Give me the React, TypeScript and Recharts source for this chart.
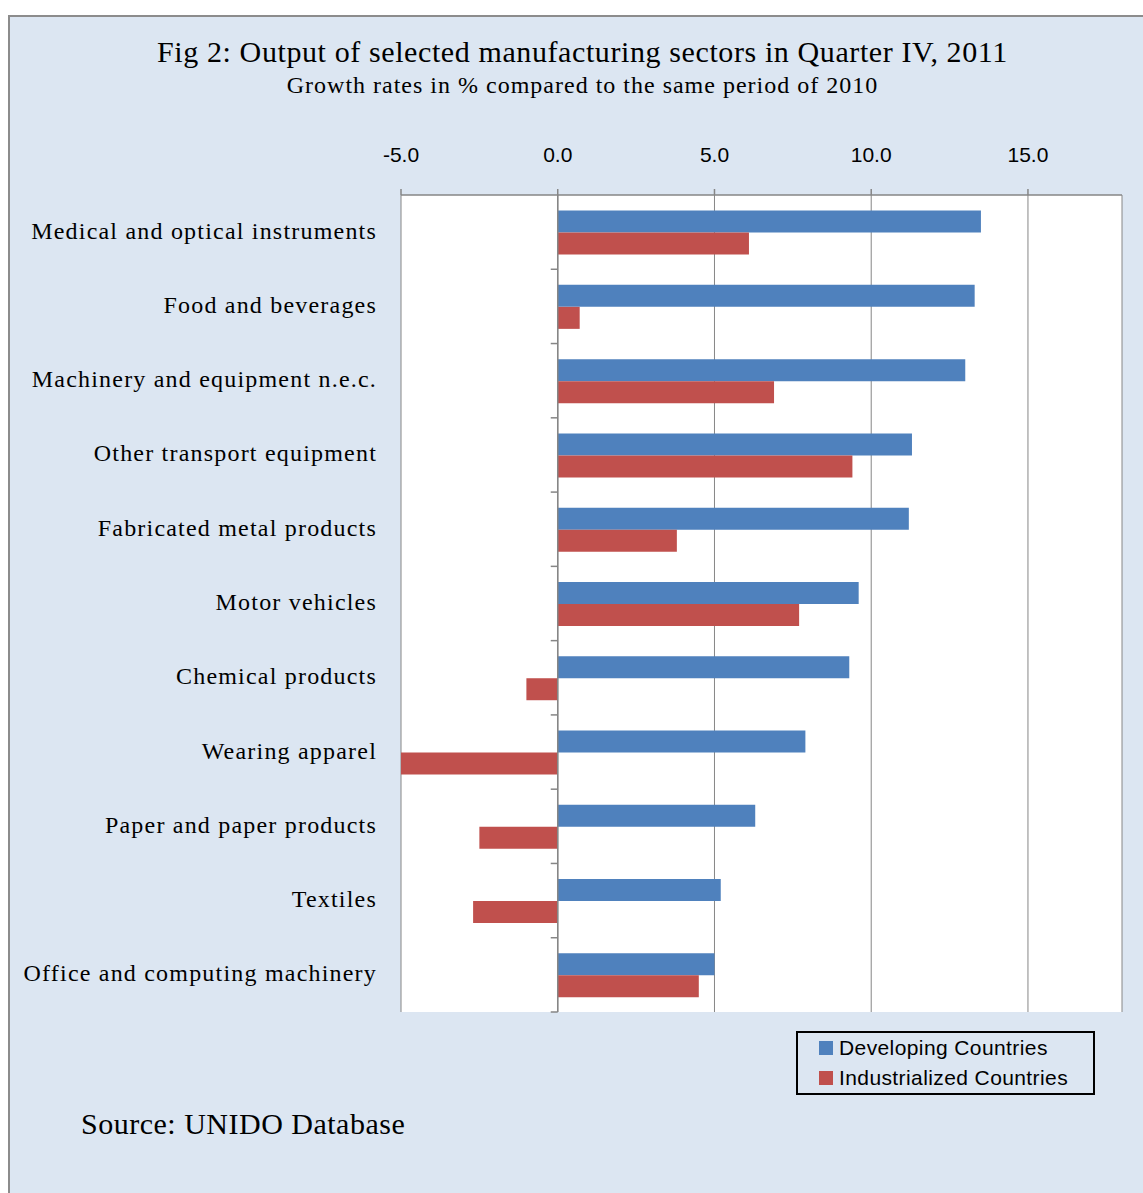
import React from "react";
import {
  BarChart,
  Bar,
  XAxis,
  YAxis,
  CartesianGrid,
  ReferenceLine,
  Legend,
} from "recharts";

const sectors = [
  "Medical and optical instruments",
  "Food and beverages",
  "Machinery and equipment n.e.c.",
  "Other transport equipment",
  "Fabricated metal products",
  "Motor vehicles",
  "Chemical products",
  "Wearing apparel",
  "Paper and paper products",
  "Textiles",
  "Office and computing machinery",
];
const developing = [13.5, 13.3, 13.0, 11.3, 11.2, 9.6, 9.3, 7.9, 6.3, 5.2, 5.0];
const industrialized = [6.1, 0.7, 6.9, 9.4, 3.8, 7.7, -1.0, -5.0, -2.5, -2.7, 4.5];
const xTicks = [-5, 0, 5, 10, 15];

const data = sectors.map((name, i) => ({
  name,
  developing: developing[i],
  industrialized: industrialized[i],
}));

const BLUE = "#4f81bd";
const RED = "#c0504d";
const GRAY = "#868686";
const SERIF = "'Liberation Serif', 'Times New Roman', serif";
const SANS = "'Liberation Sans', Arial, sans-serif";

// vertical axis at 0 with small ticks between categories
const ZeroAxis = (props: any) => {
  const { x1, y1, y2 } = props;
  const top = Math.min(y1, y2);
  const bottom = Math.max(y1, y2);
  const step = (bottom - top) / sectors.length;
  const marks = [];
  for (let i = 1; i <= sectors.length; i++) {
    const y = top + step * i;
    marks.push(<line key={i} x1={x1 - 7} x2={x1} y1={y} y2={y} stroke={GRAY} strokeWidth={1.5} />);
  }
  return (
    <g>
      <line x1={x1} x2={x1} y1={top} y2={bottom} stroke={GRAY} strokeWidth={1.5} />
      {marks}
    </g>
  );
};

const renderLegend = (props: any) => {
  const { payload } = props;
  return (
    <div
      style={{
        border: "2px solid #000",
        padding: "0 0 2px 21px",
        fontFamily: SANS,
        fontSize: 21,
        letterSpacing: 0.4,
        lineHeight: "30px",
        background: "#dce6f2",
        boxSizing: "border-box",
        height: 64,
      }}
    >
      {(payload || []).map((p: any) => (
        <div key={p.value} style={{ display: "flex", alignItems: "center" }}>
          <span style={{ width: 14, height: 14, background: p.color, marginRight: 6, display: "inline-block" }} />
          <span>{p.value}</span>
        </div>
      ))}
    </div>
  );
};

export default function App() {
  return (
    <div style={{ position: "absolute", left: 0, top: 0, width: 1143, height: 1193, overflow: "hidden" }}>
      <div
        style={{
          position: "absolute",
          left: 8,
          top: 15,
          width: 1140,
          height: 1190,
          background: "#dce6f2",
          borderLeft: "2px solid #8c8c8c",
          borderTop: "2px solid #8c8c8c",
        }}
      />
      <div
        style={{
          position: "absolute",
          left: 0,
          top: 35,
          width: 1165,
          textAlign: "center",
          fontFamily: SERIF,
          fontSize: 30,
          letterSpacing: 0.6,
          color: "#000",
        }}
      >
        Fig 2: Output of selected manufacturing sectors in Quarter IV, 2011
      </div>
      <div
        style={{
          position: "absolute",
          left: 0,
          top: 72,
          width: 1165,
          textAlign: "center",
          fontFamily: SERIF,
          fontSize: 24,
          letterSpacing: 1,
          color: "#000",
        }}
      >
        Growth rates in % compared to the same period of 2010
      </div>
      <div
        style={{
          position: "absolute",
          left: 81,
          top: 1107,
          fontFamily: SERIF,
          fontSize: 30,
          letterSpacing: 0.5,
          color: "#000",
        }}
      >
        Source: UNIDO Database
      </div>
      <div style={{ position: "absolute", left: 0, top: 0 }}>
        <BarChart
          width={1143}
          height={1193}
          data={data}
          layout="vertical"
          margin={{ top: 135, right: 21, bottom: 181, left: 11 }}
          barCategoryGap="21%"
          barGap={0}
        >
          <CartesianGrid horizontal={false} vertical={true} stroke={GRAY} fill="#ffffff" />
          <XAxis
            type="number"
            orientation="top"
            domain={[-5, 18]}
            ticks={xTicks}
            tickFormatter={(v: number) => v.toFixed(1)}
            height={60}
            tickSize={6}
            tickMargin={27}
            axisLine={{ stroke: GRAY, strokeWidth: 1.5 }}
            tickLine={{ stroke: GRAY, strokeWidth: 1.5 }}
            tick={{ fontFamily: SANS, fontSize: 21, fill: "#000" }}
            allowDataOverflow
          />
          <YAxis
            type="category"
            dataKey="name"
            width={390}
            axisLine={false}
            tickLine={false}
            tickSize={0}
            tickMargin={24}
            interval={0}
            tick={{ fontFamily: SERIF, fontSize: 24, fill: "#000", letterSpacing: 1.2, dy: -2 }}
          />
          <Bar dataKey="developing" name="Developing Countries" fill={BLUE} isAnimationActive={false} />
          <Bar dataKey="industrialized" name="Industrialized Countries" fill={RED} isAnimationActive={false} />
          <ReferenceLine x={0} shape={ZeroAxis} />
          <Legend
            layout="horizontal"
            verticalAlign="middle"
            align="center"
            content={renderLegend}
            wrapperStyle={{ left: 796, top: 1031, width: 299, height: 64 }}
          />
        </BarChart>
      </div>
    </div>
  );
}
